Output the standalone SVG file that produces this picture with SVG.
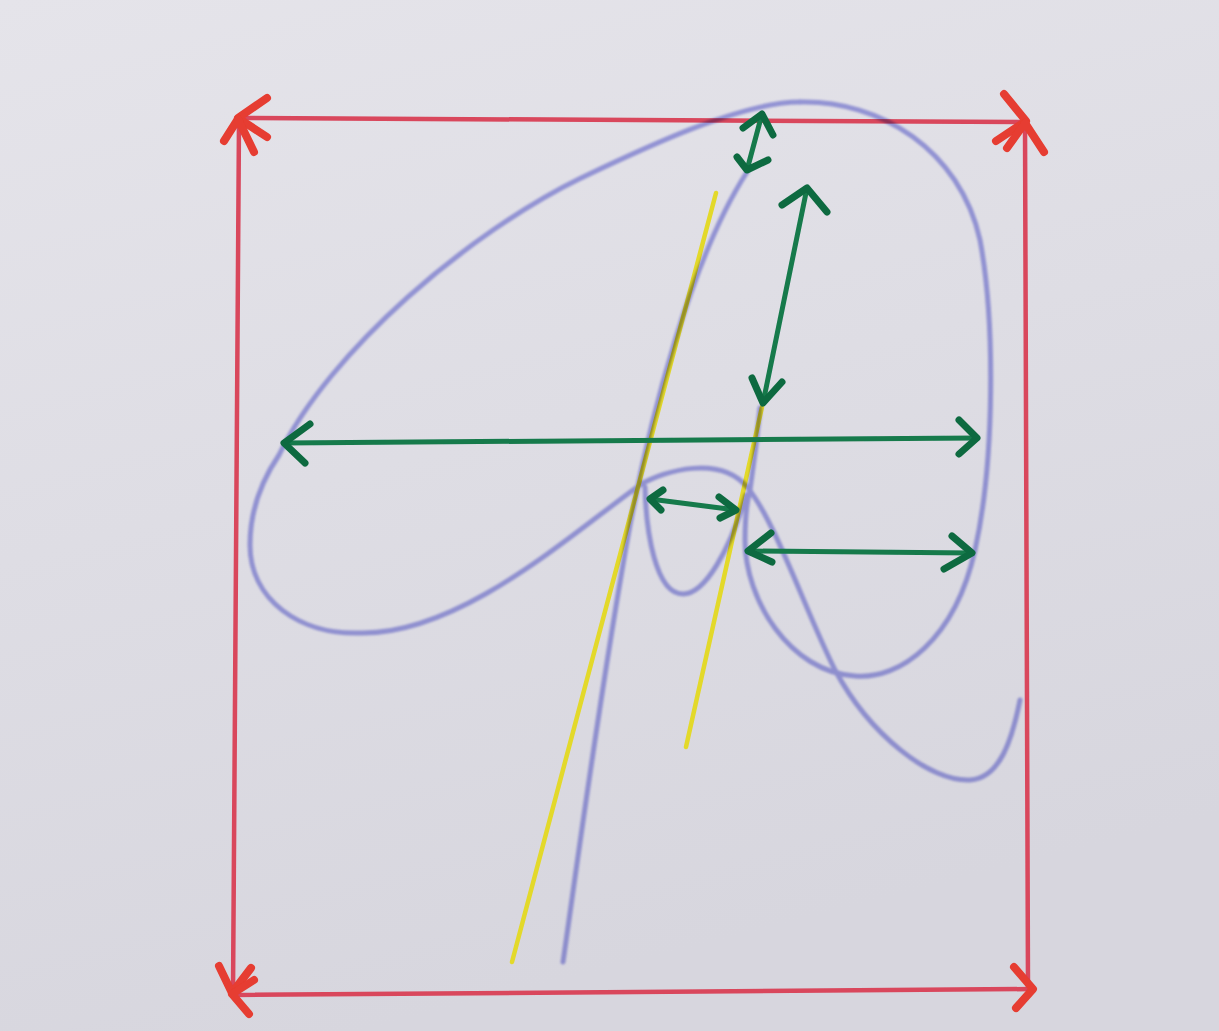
<svg xmlns="http://www.w3.org/2000/svg" width="1219" height="1031" viewBox="0 0 1219 1031">
<defs>
<linearGradient id="bg" x1="0" y1="0" x2="0.3" y2="1">
<stop offset="0" stop-color="#e5e4ea"/>
<stop offset="1" stop-color="#d7d6de"/>
</linearGradient>
<filter id="soft" x="-5%" y="-5%" width="110%" height="110%"><feGaussianBlur stdDeviation="1"/></filter>
<filter id="soft2" x="-5%" y="-5%" width="110%" height="110%"><feGaussianBlur stdDeviation="0.5"/></filter>
</defs>
<style>
.red{fill:none;stroke:#d9465c;stroke-width:4.5;stroke-linecap:round;stroke-linejoin:round}
.redh{fill:none;stroke:#e63c30;stroke-width:8;stroke-linecap:round;stroke-linejoin:round}
.blue{fill:none;stroke:#a6a7ea;stroke-width:5;stroke-linecap:round;stroke-linejoin:round}
.yel{fill:none;stroke:#e3d92a;stroke-width:4.5;stroke-linecap:round}
.grn{fill:none;stroke:#157a4c;stroke-width:5;stroke-linecap:round;stroke-linejoin:round}
.grnh{fill:none;stroke:#0f6a40;stroke-width:7;stroke-linecap:round;stroke-linejoin:round}
</style>
<rect x="0" y="0" width="1219" height="1031" fill="url(#bg)"/>

<g id="frame" filter="url(#soft2)">
<path class="red" d="M238,118 L1024,122"/>
<path class="red" d="M239,120 L233,993"/>
<path class="red" d="M1025,123 L1028,990"/>
<path class="red" d="M232,995 L1033,989"/>
<path class="redh" d="M267,98 L238,118 L267,137"/>
<path class="redh" d="M224,141 L238,119 L254,152"/>
<path class="redh" d="M1004,94 L1026,121 L996,141"/>
<path class="redh" d="M1007,148 L1025,123 L1044,152"/>
<path class="redh" d="M219,966 L232,993 L251,968"/>
<path class="redh" d="M254,980 L232,994 L249,1014"/>
<path class="redh" d="M1014,967 L1033,989 L1016,1008"/>
</g>

<g id="tangents" filter="url(#soft2)">
<path class="yel" d="M716,193 L512,962"/>
<path class="yel" d="M762,407 L686,747"/>
</g>

<g id="curves" filter="url(#soft)" style="mix-blend-mode:multiply">
<path class="blue" d="M563,962 C575,880 600,690 630,525 C650,420 690,260 747,172"/>
<path class="blue" d="M800,102 C740,102 640,150 581,178 C470,232 330,350 279,455 C262,480 250,510 250,545 C250,600 300,635 360,633 C460,635 570,535 640,485 C665,470 720,455 747,487 C775,520 805,610 835,670 C870,735 930,782 970,780 C1000,778 1012,740 1020,700"/>
<path class="blue" d="M800,102 C880,100 960,150 980,240 C995,320 995,460 975,550 C955,640 900,680 855,676 C790,672 745,600 745,540 C745,520 746,505 750,490 C753,470 757,440 760,408"/>
<path class="blue" d="M645,487 C646,530 655,594 683,594 C705,594 730,550 746,495"/>
</g>

<g id="connectors" filter="url(#soft2)">
<path class="grn" d="M762,114 L747,170"/>
<path class="grnh" d="M743,128 L762,114 L773,135"/>
<path class="grnh" d="M737,157 L747,170 L768,160"/>
<path class="grn" d="M807,188 L763,403"/>
<path class="grnh" d="M782,205 L807,188 L827,212"/>
<path class="grnh" d="M752,378 L763,403 L782,382"/>
<path class="grn" d="M284,443 L977,438"/>
<path class="grnh" d="M310,424 L284,443 L305,463"/>
<path class="grnh" d="M959,420 L977,438 L959,454"/>
<path class="grn" d="M650,499 L736,510"/>
<path class="grnh" d="M663,490 L650,499 L661,510"/>
<path class="grnh" d="M719,497 L736,510 L720,518"/>
<path class="grn" d="M748,551 L972,553"/>
<path class="grnh" d="M771,533 L748,551 L772,562"/>
<path class="grnh" d="M952,536 L972,553 L944,569"/>
</g>
</svg>
